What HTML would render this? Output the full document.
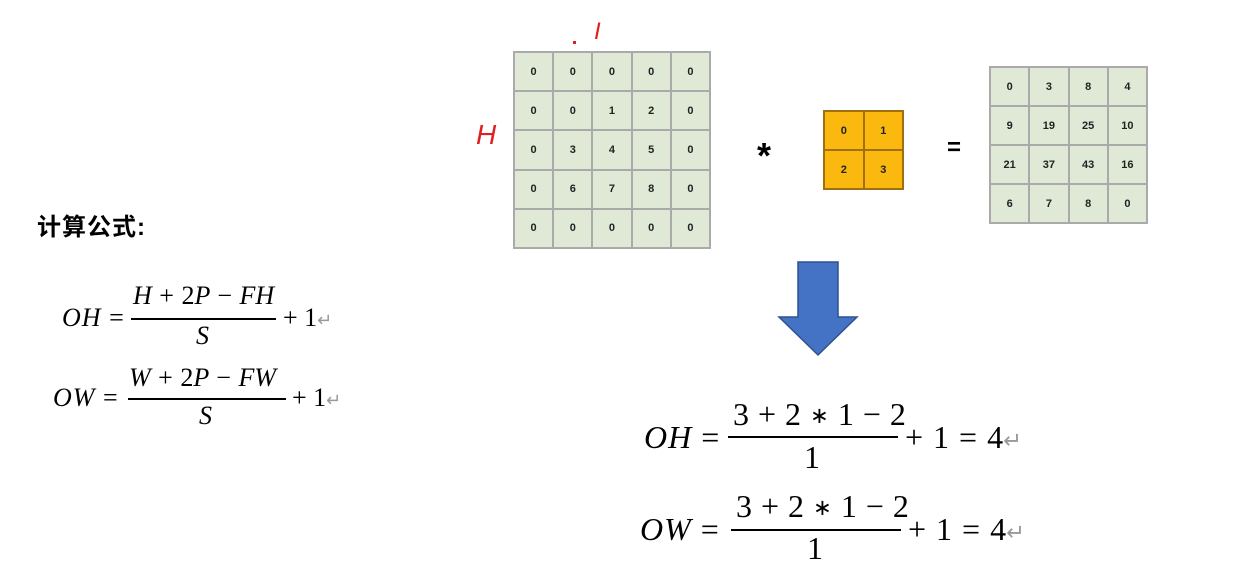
<!DOCTYPE html>
<html><head><meta charset="utf-8"><style>
body{margin:0;width:1257px;height:567px;background:#fff;position:relative;overflow:hidden;font-family:"Liberation Sans",sans-serif}
.a{position:absolute;line-height:1;white-space:nowrap}
.s{font-family:"Liberation Serif",serif}
.i{font-style:italic}
.g{position:absolute;display:grid;border:1px solid #aaa}
.g div{border:1px solid #aaa;display:flex;align-items:center;justify-content:center;font-size:11px;font-weight:bold;color:#222;box-sizing:border-box}
.ln{position:absolute;height:1.6px;background:#000}
.rt{color:#999;font-size:0.7em}
.st{font-size:0.7em;position:relative;top:-0.1em}
</style></head><body>

<div class="a" style="left:37px;top:216px;font-size:24px;font-weight:bold;letter-spacing:1px;font-family:'Liberation Sans','Noto Sans CJK SC',sans-serif">计算公式:</div>

<div class="a s" style="left:62px;top:305px;font-size:26px;letter-spacing:1px"><span class="i">OH</span> =</div>
<div class="a s i" style="left:133px;top:283px;font-size:26px;word-spacing:1px">H <span style="font-style:normal">+ 2</span>P <span style="font-style:normal">−</span> FH</div>
<div class="ln" style="left:131px;top:318px;width:145px"></div>
<div class="a s i" style="left:196px;top:323px;font-size:26px">S</div>
<div class="a s" style="left:283px;top:305px;font-size:26px">+ 1<span class="rt">↵</span></div>

<div class="a s" style="left:53px;top:385px;font-size:26px;letter-spacing:1px"><span class="i">OW</span> =</div>
<div class="a s i" style="left:129px;top:365px;font-size:26px;word-spacing:1px">W <span style="font-style:normal">+ 2</span>P <span style="font-style:normal">−</span> FW</div>
<div class="ln" style="left:128px;top:398px;width:158px"></div>
<div class="a s i" style="left:199px;top:403px;font-size:26px">S</div>
<div class="a s" style="left:292px;top:385px;font-size:26px">+ 1<span class="rt">↵</span></div>

<div class="a" style="left:476px;top:121px;font-size:28px;color:#e02020;font-style:italic;font-family:'Liberation Sans',sans-serif">H</div>
<div class="a" style="left:594px;top:20px;font-size:24px;color:#e02020;font-style:italic">I</div>
<div class="a" style="left:573px;top:41px;width:3px;height:3px;background:#e02020"></div>

<div class="g" style="left:513px;top:51px;width:196px;height:196px;grid-template-columns:repeat(5,1fr);grid-template-rows:repeat(5,1fr);background:#dfe9d6">
<div>0</div><div>0</div><div>0</div><div>0</div><div>0</div>
<div>0</div><div>0</div><div>1</div><div>2</div><div>0</div>
<div>0</div><div>3</div><div>4</div><div>5</div><div>0</div>
<div>0</div><div>6</div><div>7</div><div>8</div><div>0</div>
<div>0</div><div>0</div><div>0</div><div>0</div><div>0</div>
</div>

<div class="a" style="left:757px;top:138px;font-size:36px;font-weight:bold">*</div>

<div class="g" style="left:823px;top:110px;width:79px;height:78px;grid-template-columns:repeat(2,1fr);grid-template-rows:repeat(2,1fr);background:#fbb80f;border-color:#a07010">
<div style="border-color:#a07010">0</div><div style="border-color:#a07010">1</div><div style="border-color:#a07010">2</div><div style="border-color:#a07010">3</div>
</div>

<div class="a" style="left:947px;top:136px;font-size:24px;font-weight:bold">=</div>

<div class="g" style="left:989px;top:66px;width:157px;height:156px;grid-template-columns:repeat(4,1fr);grid-template-rows:repeat(4,1fr);background:#dfe9d6">
<div>0</div><div>3</div><div>8</div><div>4</div>
<div>9</div><div>19</div><div>25</div><div>10</div>
<div>21</div><div>37</div><div>43</div><div>16</div>
<div>6</div><div>7</div><div>8</div><div>0</div>
</div>

<svg class="a" style="left:0;top:0" width="1257" height="567"><polygon points="798,262 838,262 838,317 857,317 818,355 779,317 798,317" fill="#4472c4" stroke="#2f528f" stroke-width="1.5"/></svg>

<div class="a s" style="left:644px;top:421px;font-size:32px;letter-spacing:1px"><span class="i">OH</span> =</div>
<div class="a s" style="left:733px;top:398px;font-size:32px;word-spacing:1px">3 + 2 <span class="st">∗</span> 1 − 2</div>
<div class="ln" style="left:728px;top:436px;width:170px;height:2px"></div>
<div class="a s" style="left:804px;top:441px;font-size:32px">1</div>
<div class="a s" style="left:905px;top:421px;font-size:32px;word-spacing:2px">+ 1 = 4<span class="rt">↵</span></div>

<div class="a s" style="left:640px;top:513px;font-size:32px;letter-spacing:1px"><span class="i">OW</span> =</div>
<div class="a s" style="left:736px;top:490px;font-size:32px;word-spacing:1px">3 + 2 <span class="st">∗</span> 1 − 2</div>
<div class="ln" style="left:731px;top:529px;width:170px;height:2px"></div>
<div class="a s" style="left:807px;top:532px;font-size:32px">1</div>
<div class="a s" style="left:908px;top:513px;font-size:32px;word-spacing:2px">+ 1 = 4<span class="rt">↵</span></div>

</body></html>
